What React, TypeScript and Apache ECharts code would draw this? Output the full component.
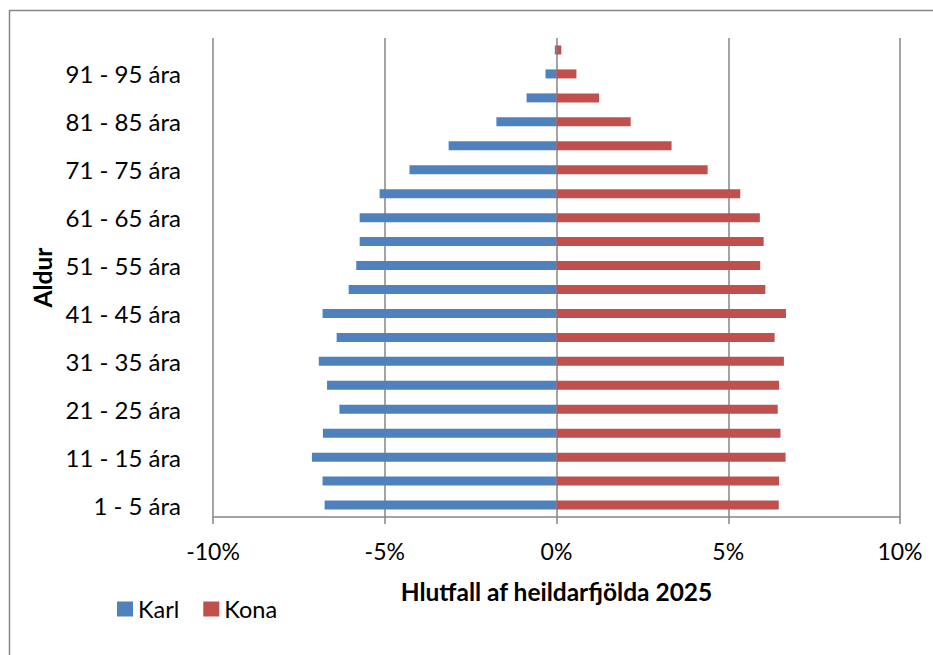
import React, { useEffect, useRef } from "react";
import * as echarts from "echarts";

const ageGroups = [
  "1 - 5 ára", "6 - 10 ára", "11 - 15 ára", "16 - 20 ára", "21 - 25 ára",
  "26 - 30 ára", "31 - 35 ára", "36 - 40 ára", "41 - 45 ára", "46 - 50 ára",
  "51 - 55 ára", "56 - 60 ára", "61 - 65 ára", "66 - 70 ára", "71 - 75 ára",
  "76 - 80 ára", "81 - 85 ára", "86 - 90 ára", "91 - 95 ára", "96 - 100 ára",
];

// percentages of total population (shown as negative for men)
const karl = [
  6.75, 6.81, 7.12, 6.80, 6.32, 6.68, 6.92, 6.40, 6.81, 6.05,
  5.83, 5.73, 5.73, 5.15, 4.28, 3.14, 1.75, 0.87, 0.32, 0.05,
];
const kona = [
  6.47, 6.48, 6.67, 6.52, 6.44, 6.48, 6.62, 6.35, 6.68, 6.08,
  5.93, 6.03, 5.92, 5.35, 4.40, 3.35, 2.16, 1.24, 0.58, 0.14,
];

const xTicks = { min: -10, max: 10, interval: 5 };

const FONT = "Lato, 'Noto Sans', sans-serif";
const GRAY = "#868686";

export default function App() {
  const ref = useRef<HTMLDivElement>(null);
  useEffect(() => {
    if (!ref.current) return;
    const chart = echarts.init(ref.current, undefined, { renderer: "svg" });
    chart.setOption({
      animation: false,
      backgroundColor: "#ffffff",
      textStyle: { fontFamily: FONT },
      grid: { left: 213, right: 33, top: 38, bottom: 138, containLabel: false },
      legend: {
        left: 112,
        top: 592,
        itemWidth: 16,
        itemHeight: 15,
        itemGap: 24,
        icon: "rect",
        textStyle: { fontSize: 23.5, color: "#000", fontFamily: FONT },
        data: ["Karl", "Kona"],
      },
      xAxis: {
        type: "value",
        min: xTicks.min,
        max: xTicks.max,
        interval: xTicks.interval,
        name: "Hlutfall af heildarfjölda 2025",
        nameLocation: "middle",
        nameGap: 62,
        nameTextStyle: { fontSize: 24.5, fontWeight: "bold", color: "#000", fontFamily: FONT },
        axisLine: { show: true, lineStyle: { color: GRAY, width: 1.5 } },
        axisTick: { show: true, length: 7, lineStyle: { color: GRAY, width: 1.5 } },
        axisLabel: {
          fontSize: 23,
          color: "#000",
          margin: 22,
          formatter: (v: number) => `${v}%`,
        },
        splitLine: { show: true, lineStyle: { color: GRAY, width: 1.5 } },
      },
      yAxis: {
        type: "category",
        data: ageGroups,
        name: "Aldur",
        nameLocation: "middle",
        nameGap: 158,
        nameRotate: 90,
        nameTextStyle: { fontSize: 24.5, fontWeight: "bold", color: "#000", fontFamily: FONT },
        axisLine: { show: false },
        axisTick: { show: false },
        axisLabel: { interval: 1, fontSize: 24, color: "#000", margin: 32 },
        splitLine: { show: false },
      },
      series: [
        {
          name: "Karl",
          type: "bar",
          data: karl.map((v) => -v),
          barWidth: 9,
          barGap: "-100%",
          itemStyle: { color: "#4F81BD" },
        },
        {
          name: "Kona",
          type: "bar",
          data: kona,
          barWidth: 9,
          barGap: "-100%",
          itemStyle: { color: "#C0504D" },
        },
      ],
      graphic: [
        {
          type: "rect",
          silent: true,
          shape: { x: 9.5, y: 10.5, width: 1000, height: 1000 },
          style: { fill: "none", stroke: GRAY, lineWidth: 1.5 },
        },
      ],
    });
    return () => chart.dispose();
  }, []);
  return (
    <div
      ref={ref}
      style={{ position: "fixed", left: 0, top: 0, width: 933, height: 655, background: "#fff" }}
    />
  );
}
